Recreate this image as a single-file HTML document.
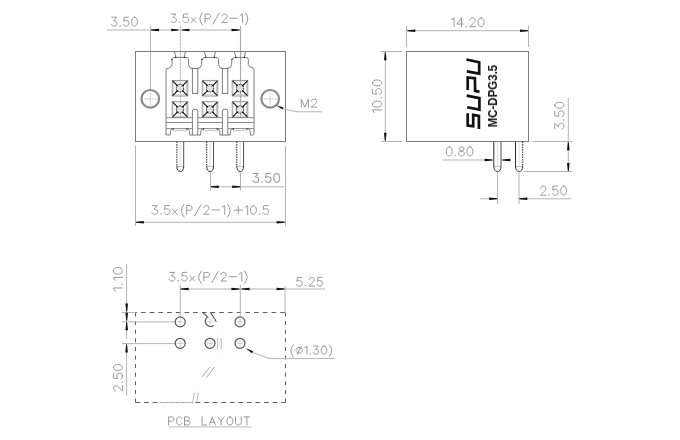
<!DOCTYPE html>
<html><head><meta charset="utf-8"><style>
html,body{margin:0;padding:0;background:#fff;width:680px;height:440px;overflow:hidden}
svg{display:block}
text{font-family:"Liberation Sans",sans-serif}
</style></head><body>
<svg width="680" height="440" viewBox="0 0 680 440">
<rect width="680" height="440" fill="#fff"/>
<line x1="107" y1="30" x2="240.5" y2="30" stroke="#b4b4b4" stroke-width="1" />
<line x1="150.5" y1="26" x2="150.5" y2="89" stroke="#b4b4b4" stroke-width="1" />
<line x1="180.5" y1="26" x2="180.5" y2="118" stroke="#b0b0b0" stroke-width="0.9" stroke-dasharray="2.5,0.8"/>
<line x1="240.5" y1="26" x2="240.5" y2="118" stroke="#a8a8a8" stroke-width="1.1" />
<polygon points="151.00,29.55 159.00,28.70 159.00,31.30 151.00,30.45" fill="#111"/>
<polygon points="178.40,29.55 171.20,28.70 171.20,31.30 178.40,30.45" fill="#111"/>
<polygon points="181.90,29.55 189.30,28.70 189.30,31.30 181.90,30.45" fill="#111"/>
<polygon points="239.50,29.55 231.50,28.70 231.50,31.30 239.50,30.45" fill="#111"/>
<g transform="translate(111.30000000000001 17.2) scale(0.99618 0.89000)" fill="none" stroke="#999999" stroke-width="1.0" stroke-linecap="round" stroke-linejoin="round" style="vector-effect:non-scaling-stroke"><path vector-effect="non-scaling-stroke" transform="translate(0.000 0) scale(0.86 1)" d="M0.5,0 L6.1,0 L2.7,4.1 C5.2,4 6.6,5.2 6.6,7 C6.6,8.9 5.2,10 3.3,10 C1.8,10 0.6,9.4 0,8.2"/><path vector-effect="non-scaling-stroke" transform="translate(8.276 0) scale(1.0 1)" d="M0.2,9.6 L1.0,9.6"/><path vector-effect="non-scaling-stroke" transform="translate(12.076 0) scale(0.86 1)" d="M6,0 L0.9,0 L0.4,4.6 C1.2,4 2.2,3.7 3.3,3.7 C5.3,3.7 6.6,4.9 6.6,6.8 C6.6,8.8 5.2,10 3.3,10 C1.8,10 0.6,9.4 0,8.2"/><path vector-effect="non-scaling-stroke" transform="translate(20.352 0) scale(0.86 1)" d="M3.4,0 C5.6,0 6.8,2.2 6.8,5 C6.8,7.8 5.6,10 3.4,10 C1.2,10 0,7.8 0,5 C0,2.2 1.2,0 3.4,0 Z"/></g>
<g transform="translate(170.70000000000002 14.0) scale(1.00470 0.85000)" fill="none" stroke="#999999" stroke-width="1.0" stroke-linecap="round" stroke-linejoin="round" style="vector-effect:non-scaling-stroke"><path vector-effect="non-scaling-stroke" transform="translate(0.000 0) scale(0.86 1)" d="M0.5,0 L6.1,0 L2.7,4.1 C5.2,4 6.6,5.2 6.6,7 C6.6,8.9 5.2,10 3.3,10 C1.8,10 0.6,9.4 0,8.2"/><path vector-effect="non-scaling-stroke" transform="translate(8.276 0) scale(1.0 1)" d="M0.2,9.6 L1.0,9.6"/><path vector-effect="non-scaling-stroke" transform="translate(12.076 0) scale(0.86 1)" d="M6,0 L0.9,0 L0.4,4.6 C1.2,4 2.2,3.7 3.3,3.7 C5.3,3.7 6.6,4.9 6.6,6.8 C6.6,8.8 5.2,10 3.3,10 C1.8,10 0.6,9.4 0,8.2"/><path vector-effect="non-scaling-stroke" transform="translate(20.352 0) scale(0.86 1)" d="M0,4.2 L5.4,10 M5.4,4.2 L0,10"/><path vector-effect="non-scaling-stroke" transform="translate(27.596 0) scale(1.0 1)" d="M4,-1.5 Q-1.3,5.7 4,12.9"/><path vector-effect="non-scaling-stroke" transform="translate(34.196 0) scale(0.86 1)" d="M0,10 L0,0 L3.6,0 C5.3,0 6.2,1.1 6.2,2.7 C6.2,4.3 5.3,5.4 3.6,5.4 L0,5.4"/><path vector-effect="non-scaling-stroke" transform="translate(42.128 0) scale(1.0 1)" d="M0,11.8 L6.1,-1"/><path vector-effect="non-scaling-stroke" transform="translate(50.828 0) scale(0.86 1)" d="M0.2,2.4 C0.5,0.8 1.7,0 3.2,0 C5,0 6.2,1.1 6.2,2.8 C6.2,4.2 5.3,5.3 3.8,6.5 L0,10 L6.4,10"/><path vector-effect="non-scaling-stroke" transform="translate(58.932 0) scale(1.0 1)" d="M0,5 L7.4,5"/><path vector-effect="non-scaling-stroke" transform="translate(68.932 0) scale(1.0 1)" d="M0,1.9 L2.6,0 L2.6,10"/><path vector-effect="non-scaling-stroke" transform="translate(74.232 0) scale(1.0 1)" d="M0,-1.5 Q5.3,5.7 0,12.9"/></g>
<rect x="135.5" y="51.5" width="150" height="90" fill="none" stroke="#7c7c7c" stroke-width="1"/>
<path d="M166,135 L166,69.5 Q166,68.7 167,68.7 L168.5,68.5 Q172,67 172.1,64.2 L172.1,59.3 Q172.2,57.7 173.5,57.6 L175.9,57.4 L174.4,51.5 M185.5,51.5 L184.3,57.4 L175.9,57.4 M184.3,57.4 L187.2,57.6 Q188.4,58 188.5,59.3 L188.6,64.6 Q189,68.5 192.4,68.5 L197.4,68.5 Q201.4,68.3 201.6,64.6 L201.8,60.5 Q202.2,57.6 205,57.4 L205.9,57.4 L204.4,51.5 M215.5,51.5 L214.3,57.4 L205.9,57.4 M214.3,57.4 L217.2,57.6 Q218.4,58 218.5,59.3 L218.6,64.6 Q219,68.5 222.4,68.5 L227.4,68.5 Q231.4,68.3 231.6,64.6 L231.8,60.5 Q232.2,57.6 235,57.4 L235.9,57.4 L234.4,51.5 M245.5,51.5 L244.3,57.4 L235.9,57.4 M244.3,57.4 L247.2,57.6 Q248.3,58 248.3,59.3 L248.3,64.6 Q249.5,67.6 253,68.1 Q254,68.3 254,69.5 L254,133.6" fill="none" stroke="#7c7c7c" stroke-width="1"/>
<circle cx="175.8" cy="57.4" r="0.7" fill="#222"/>
<circle cx="184.3" cy="57.4" r="0.7" fill="#222"/>
<circle cx="171.9" cy="59.4" r="0.7" fill="#222"/>
<circle cx="205.8" cy="57.4" r="0.7" fill="#222"/>
<circle cx="214.3" cy="57.4" r="0.7" fill="#222"/>
<circle cx="201.9" cy="59.4" r="0.7" fill="#222"/>
<circle cx="235.8" cy="57.4" r="0.7" fill="#222"/>
<circle cx="244.3" cy="57.4" r="0.7" fill="#222"/>
<circle cx="231.9" cy="59.4" r="0.7" fill="#222"/>
<circle cx="192.4" cy="68.5" r="0.7" fill="#222"/>
<circle cx="197.4" cy="68.5" r="0.7" fill="#222"/>
<circle cx="222.4" cy="68.5" r="0.7" fill="#222"/>
<circle cx="227.4" cy="68.5" r="0.7" fill="#222"/>
<rect x="192.4" y="68.5" width="5.4" height="25" fill="none" stroke="#7c7c7c" stroke-width="1"/>
<path d="M192.4,135 L192.4,111 Q192.4,109.2 195.1,109.2 Q197.8,109.2 197.8,111 L197.8,135" fill="none" stroke="#7c7c7c" stroke-width="1"/>
<rect x="222.4" y="68.5" width="5.4" height="25" fill="none" stroke="#7c7c7c" stroke-width="1"/>
<path d="M222.4,135 L222.4,111 Q222.4,109.2 225.1,109.2 Q227.8,109.2 227.8,111 L227.8,135" fill="none" stroke="#7c7c7c" stroke-width="1"/>
<line x1="166" y1="117.7" x2="192.4" y2="117.7" stroke="#8a8a8a" stroke-width="1.0" />
<line x1="166" y1="122.5" x2="192.4" y2="122.5" stroke="#8a8a8a" stroke-width="1.0" />
<line x1="166" y1="128.6" x2="192.4" y2="128.6" stroke="#8a8a8a" stroke-width="1.0" />
<line x1="197.8" y1="117.7" x2="222.4" y2="117.7" stroke="#8a8a8a" stroke-width="1.0" />
<line x1="197.8" y1="122.5" x2="222.4" y2="122.5" stroke="#8a8a8a" stroke-width="1.0" />
<line x1="197.8" y1="128.6" x2="222.4" y2="128.6" stroke="#8a8a8a" stroke-width="1.0" />
<line x1="227.8" y1="117.7" x2="254" y2="117.7" stroke="#8a8a8a" stroke-width="1.0" />
<line x1="227.8" y1="122.5" x2="254" y2="122.5" stroke="#8a8a8a" stroke-width="1.0" />
<line x1="227.8" y1="128.6" x2="254" y2="128.6" stroke="#8a8a8a" stroke-width="1.0" />
<path d="M166,133.6 Q166,135 167.4,135 L170.1,135 M170.2,135 L170.39999999999998,131.4 Q170.7,128.9 173.2,128.6 M186.8,128.6 Q189.3,128.9 189.60000000000002,131.4 L189.8,135 M200.6,135 L200.79999999999998,131.4 Q201.1,128.9 203.6,128.6 M216.9,128.6 Q219.4,128.9 219.70000000000002,131.4 L219.9,135 M230.3,135 L230.5,131.4 Q230.8,128.9 233.3,128.6 M247.4,128.6 Q249.9,128.9 250.20000000000002,131.4 L250.4,135 M189.8,135 L200.6,135 M219.9,135 L230.3,135 M250.4,135 L252.6,135 Q254,135 254,133.6" fill="none" stroke="#7c7c7c" stroke-width="1"/>
<path d="M172.7,131 Q180.0,129.8 187.2,131" fill="none" stroke="#b4b4b4" stroke-width="0.8"/>
<circle cx="173.2" cy="128.9" r="0.75" fill="#222"/><circle cx="186.79999999999998" cy="128.9" r="0.75" fill="#222"/>
<path d="M203.1,131 Q210.4,129.8 217.6,131" fill="none" stroke="#b4b4b4" stroke-width="0.8"/>
<circle cx="203.6" cy="128.9" r="0.75" fill="#222"/><circle cx="217.2" cy="128.9" r="0.75" fill="#222"/>
<path d="M232.8,131 Q240.10000000000002,129.8 247.3,131" fill="none" stroke="#b4b4b4" stroke-width="0.8"/>
<circle cx="233.3" cy="128.9" r="0.75" fill="#222"/><circle cx="246.9" cy="128.9" r="0.75" fill="#222"/>
<rect x="172.2" y="80.4" width="15.6" height="15.6" fill="none" stroke="#8a8a8a" stroke-width="0.9"/>
<path d="M186.60000000000002,81.80000000000001 L186.60000000000002,94.8 L173.6,94.8" fill="none" stroke="#c4c4c4" stroke-width="1"/>
<path d="M173.39999999999998,94.6 L173.39999999999998,81.60000000000001 L186.4,81.60000000000001" fill="none" stroke="#dcdcdc" stroke-width="0.8"/>
<circle cx="180" cy="88.2" r="3.7" fill="#e6e6e6" stroke="#2a2a2a" stroke-width="1" stroke-dasharray="1.6,0.6"/>
<circle cx="180" cy="88.2" r="2.0" fill="#f8f8f8"/>
<line x1="177.1" y1="85.3" x2="178.4" y2="86.60000000000001" stroke="#666" stroke-width="0.7" />
<line x1="182.9" y1="91.10000000000001" x2="181.6" y2="89.8" stroke="#666" stroke-width="0.7" />
<line x1="177.1" y1="91.10000000000001" x2="178.4" y2="89.8" stroke="#666" stroke-width="0.7" />
<line x1="182.9" y1="85.3" x2="181.6" y2="86.60000000000001" stroke="#666" stroke-width="0.7" />
<line x1="172.6" y1="80.8" x2="177.1" y2="85.3" stroke="#111" stroke-width="1.15" />
<circle cx="177.1" cy="85.3" r="0.85" fill="#111"/>
<line x1="187.4" y1="80.8" x2="182.9" y2="85.3" stroke="#111" stroke-width="1.15" />
<circle cx="182.9" cy="85.3" r="0.85" fill="#111"/>
<line x1="172.6" y1="95.60000000000001" x2="177.1" y2="91.10000000000001" stroke="#111" stroke-width="1.15" />
<circle cx="177.1" cy="91.10000000000001" r="0.85" fill="#111"/>
<line x1="187.4" y1="95.60000000000001" x2="182.9" y2="91.10000000000001" stroke="#111" stroke-width="1.15" />
<circle cx="182.9" cy="91.10000000000001" r="0.85" fill="#111"/>
<line x1="177" y1="88.2" x2="183" y2="88.2" stroke="#c8c8c8" stroke-width="0.7" />
<line x1="180" y1="85.2" x2="180" y2="91.2" stroke="#c8c8c8" stroke-width="0.7" />
<rect x="172.2" y="101.7" width="15.6" height="15.6" fill="none" stroke="#8a8a8a" stroke-width="0.9"/>
<path d="M186.60000000000002,103.10000000000001 L186.60000000000002,116.1 L173.6,116.1" fill="none" stroke="#c4c4c4" stroke-width="1"/>
<path d="M173.39999999999998,115.89999999999999 L173.39999999999998,102.9 L186.4,102.9" fill="none" stroke="#dcdcdc" stroke-width="0.8"/>
<circle cx="180" cy="109.5" r="3.7" fill="#e6e6e6" stroke="#2a2a2a" stroke-width="1" stroke-dasharray="1.6,0.6"/>
<circle cx="180" cy="109.5" r="2.0" fill="#f8f8f8"/>
<line x1="177.1" y1="106.6" x2="178.4" y2="107.9" stroke="#666" stroke-width="0.7" />
<line x1="182.9" y1="112.4" x2="181.6" y2="111.1" stroke="#666" stroke-width="0.7" />
<line x1="177.1" y1="112.4" x2="178.4" y2="111.1" stroke="#666" stroke-width="0.7" />
<line x1="182.9" y1="106.6" x2="181.6" y2="107.9" stroke="#666" stroke-width="0.7" />
<line x1="172.6" y1="102.1" x2="177.1" y2="106.6" stroke="#111" stroke-width="1.15" />
<circle cx="177.1" cy="106.6" r="0.85" fill="#111"/>
<line x1="187.4" y1="102.1" x2="182.9" y2="106.6" stroke="#111" stroke-width="1.15" />
<circle cx="182.9" cy="106.6" r="0.85" fill="#111"/>
<line x1="172.6" y1="116.9" x2="177.1" y2="112.4" stroke="#111" stroke-width="1.15" />
<circle cx="177.1" cy="112.4" r="0.85" fill="#111"/>
<line x1="187.4" y1="116.9" x2="182.9" y2="112.4" stroke="#111" stroke-width="1.15" />
<circle cx="182.9" cy="112.4" r="0.85" fill="#111"/>
<line x1="177" y1="109.5" x2="183" y2="109.5" stroke="#c8c8c8" stroke-width="0.7" />
<line x1="180" y1="106.5" x2="180" y2="112.5" stroke="#c8c8c8" stroke-width="0.7" />
<rect x="202.2" y="80.4" width="15.6" height="15.6" fill="none" stroke="#8a8a8a" stroke-width="0.9"/>
<path d="M216.60000000000002,81.80000000000001 L216.60000000000002,94.8 L203.6,94.8" fill="none" stroke="#c4c4c4" stroke-width="1"/>
<path d="M203.39999999999998,94.6 L203.39999999999998,81.60000000000001 L216.4,81.60000000000001" fill="none" stroke="#dcdcdc" stroke-width="0.8"/>
<circle cx="210" cy="88.2" r="3.7" fill="#e6e6e6" stroke="#2a2a2a" stroke-width="1" stroke-dasharray="1.6,0.6"/>
<circle cx="210" cy="88.2" r="2.0" fill="#f8f8f8"/>
<line x1="207.1" y1="85.3" x2="208.4" y2="86.60000000000001" stroke="#666" stroke-width="0.7" />
<line x1="212.9" y1="91.10000000000001" x2="211.6" y2="89.8" stroke="#666" stroke-width="0.7" />
<line x1="207.1" y1="91.10000000000001" x2="208.4" y2="89.8" stroke="#666" stroke-width="0.7" />
<line x1="212.9" y1="85.3" x2="211.6" y2="86.60000000000001" stroke="#666" stroke-width="0.7" />
<line x1="202.6" y1="80.8" x2="207.1" y2="85.3" stroke="#111" stroke-width="1.15" />
<circle cx="207.1" cy="85.3" r="0.85" fill="#111"/>
<line x1="217.4" y1="80.8" x2="212.9" y2="85.3" stroke="#111" stroke-width="1.15" />
<circle cx="212.9" cy="85.3" r="0.85" fill="#111"/>
<line x1="202.6" y1="95.60000000000001" x2="207.1" y2="91.10000000000001" stroke="#111" stroke-width="1.15" />
<circle cx="207.1" cy="91.10000000000001" r="0.85" fill="#111"/>
<line x1="217.4" y1="95.60000000000001" x2="212.9" y2="91.10000000000001" stroke="#111" stroke-width="1.15" />
<circle cx="212.9" cy="91.10000000000001" r="0.85" fill="#111"/>
<line x1="207" y1="88.2" x2="213" y2="88.2" stroke="#c8c8c8" stroke-width="0.7" />
<line x1="210" y1="85.2" x2="210" y2="91.2" stroke="#c8c8c8" stroke-width="0.7" />
<rect x="202.2" y="101.7" width="15.6" height="15.6" fill="none" stroke="#8a8a8a" stroke-width="0.9"/>
<path d="M216.60000000000002,103.10000000000001 L216.60000000000002,116.1 L203.6,116.1" fill="none" stroke="#c4c4c4" stroke-width="1"/>
<path d="M203.39999999999998,115.89999999999999 L203.39999999999998,102.9 L216.4,102.9" fill="none" stroke="#dcdcdc" stroke-width="0.8"/>
<circle cx="210" cy="109.5" r="3.7" fill="#e6e6e6" stroke="#2a2a2a" stroke-width="1" stroke-dasharray="1.6,0.6"/>
<circle cx="210" cy="109.5" r="2.0" fill="#f8f8f8"/>
<line x1="207.1" y1="106.6" x2="208.4" y2="107.9" stroke="#666" stroke-width="0.7" />
<line x1="212.9" y1="112.4" x2="211.6" y2="111.1" stroke="#666" stroke-width="0.7" />
<line x1="207.1" y1="112.4" x2="208.4" y2="111.1" stroke="#666" stroke-width="0.7" />
<line x1="212.9" y1="106.6" x2="211.6" y2="107.9" stroke="#666" stroke-width="0.7" />
<line x1="202.6" y1="102.1" x2="207.1" y2="106.6" stroke="#111" stroke-width="1.15" />
<circle cx="207.1" cy="106.6" r="0.85" fill="#111"/>
<line x1="217.4" y1="102.1" x2="212.9" y2="106.6" stroke="#111" stroke-width="1.15" />
<circle cx="212.9" cy="106.6" r="0.85" fill="#111"/>
<line x1="202.6" y1="116.9" x2="207.1" y2="112.4" stroke="#111" stroke-width="1.15" />
<circle cx="207.1" cy="112.4" r="0.85" fill="#111"/>
<line x1="217.4" y1="116.9" x2="212.9" y2="112.4" stroke="#111" stroke-width="1.15" />
<circle cx="212.9" cy="112.4" r="0.85" fill="#111"/>
<line x1="207" y1="109.5" x2="213" y2="109.5" stroke="#c8c8c8" stroke-width="0.7" />
<line x1="210" y1="106.5" x2="210" y2="112.5" stroke="#c8c8c8" stroke-width="0.7" />
<rect x="232.2" y="80.4" width="15.6" height="15.6" fill="none" stroke="#8a8a8a" stroke-width="0.9"/>
<path d="M246.60000000000002,81.80000000000001 L246.60000000000002,94.8 L233.6,94.8" fill="none" stroke="#c4c4c4" stroke-width="1"/>
<path d="M233.39999999999998,94.6 L233.39999999999998,81.60000000000001 L246.4,81.60000000000001" fill="none" stroke="#dcdcdc" stroke-width="0.8"/>
<circle cx="240" cy="88.2" r="3.7" fill="#e6e6e6" stroke="#2a2a2a" stroke-width="1" stroke-dasharray="1.6,0.6"/>
<circle cx="240" cy="88.2" r="2.0" fill="#f8f8f8"/>
<line x1="237.1" y1="85.3" x2="238.4" y2="86.60000000000001" stroke="#666" stroke-width="0.7" />
<line x1="242.9" y1="91.10000000000001" x2="241.6" y2="89.8" stroke="#666" stroke-width="0.7" />
<line x1="237.1" y1="91.10000000000001" x2="238.4" y2="89.8" stroke="#666" stroke-width="0.7" />
<line x1="242.9" y1="85.3" x2="241.6" y2="86.60000000000001" stroke="#666" stroke-width="0.7" />
<line x1="232.6" y1="80.8" x2="237.1" y2="85.3" stroke="#111" stroke-width="1.15" />
<circle cx="237.1" cy="85.3" r="0.85" fill="#111"/>
<line x1="247.4" y1="80.8" x2="242.9" y2="85.3" stroke="#111" stroke-width="1.15" />
<circle cx="242.9" cy="85.3" r="0.85" fill="#111"/>
<line x1="232.6" y1="95.60000000000001" x2="237.1" y2="91.10000000000001" stroke="#111" stroke-width="1.15" />
<circle cx="237.1" cy="91.10000000000001" r="0.85" fill="#111"/>
<line x1="247.4" y1="95.60000000000001" x2="242.9" y2="91.10000000000001" stroke="#111" stroke-width="1.15" />
<circle cx="242.9" cy="91.10000000000001" r="0.85" fill="#111"/>
<line x1="237" y1="88.2" x2="243" y2="88.2" stroke="#c8c8c8" stroke-width="0.7" />
<line x1="240" y1="85.2" x2="240" y2="91.2" stroke="#c8c8c8" stroke-width="0.7" />
<rect x="232.2" y="101.7" width="15.6" height="15.6" fill="none" stroke="#8a8a8a" stroke-width="0.9"/>
<path d="M246.60000000000002,103.10000000000001 L246.60000000000002,116.1 L233.6,116.1" fill="none" stroke="#c4c4c4" stroke-width="1"/>
<path d="M233.39999999999998,115.89999999999999 L233.39999999999998,102.9 L246.4,102.9" fill="none" stroke="#dcdcdc" stroke-width="0.8"/>
<circle cx="240" cy="109.5" r="3.7" fill="#e6e6e6" stroke="#2a2a2a" stroke-width="1" stroke-dasharray="1.6,0.6"/>
<circle cx="240" cy="109.5" r="2.0" fill="#f8f8f8"/>
<line x1="237.1" y1="106.6" x2="238.4" y2="107.9" stroke="#666" stroke-width="0.7" />
<line x1="242.9" y1="112.4" x2="241.6" y2="111.1" stroke="#666" stroke-width="0.7" />
<line x1="237.1" y1="112.4" x2="238.4" y2="111.1" stroke="#666" stroke-width="0.7" />
<line x1="242.9" y1="106.6" x2="241.6" y2="107.9" stroke="#666" stroke-width="0.7" />
<line x1="232.6" y1="102.1" x2="237.1" y2="106.6" stroke="#111" stroke-width="1.15" />
<circle cx="237.1" cy="106.6" r="0.85" fill="#111"/>
<line x1="247.4" y1="102.1" x2="242.9" y2="106.6" stroke="#111" stroke-width="1.15" />
<circle cx="242.9" cy="106.6" r="0.85" fill="#111"/>
<line x1="232.6" y1="116.9" x2="237.1" y2="112.4" stroke="#111" stroke-width="1.15" />
<circle cx="237.1" cy="112.4" r="0.85" fill="#111"/>
<line x1="247.4" y1="116.9" x2="242.9" y2="112.4" stroke="#111" stroke-width="1.15" />
<circle cx="242.9" cy="112.4" r="0.85" fill="#111"/>
<line x1="237" y1="109.5" x2="243" y2="109.5" stroke="#c8c8c8" stroke-width="0.7" />
<line x1="240" y1="106.5" x2="240" y2="112.5" stroke="#c8c8c8" stroke-width="0.7" />
<circle cx="150.3" cy="98.8" r="8.8" fill="none" stroke="#8a8a8a" stroke-width="2.2"/>
<line x1="143.8" y1="98.9" x2="156.8" y2="98.9" stroke="#c8c8c8" stroke-width="0.8" />
<line x1="150.3" y1="92.4" x2="150.3" y2="105.4" stroke="#c8c8c8" stroke-width="0.8" />
<circle cx="270.2" cy="98.8" r="8.8" fill="none" stroke="#8a8a8a" stroke-width="2.2"/>
<line x1="263.7" y1="98.9" x2="276.7" y2="98.9" stroke="#c8c8c8" stroke-width="0.8" />
<line x1="270.2" y1="92.4" x2="270.2" y2="105.4" stroke="#c8c8c8" stroke-width="0.8" />
<polygon points="275.8,105 283.5,107.6 282.4,109.6" fill="#111"/>
<path d="M283,108.6 Q290,110.8 298,111.8 L322,111.8" fill="none" stroke="#b4b4b4" stroke-width="1"/>
<g transform="translate(301.29999999999995 99.10000000000001) scale(1.04041 0.81000)" fill="none" stroke="#999999" stroke-width="1.0" stroke-linecap="round" stroke-linejoin="round" style="vector-effect:non-scaling-stroke"><path vector-effect="non-scaling-stroke" transform="translate(0.000 0) scale(0.86 1)" d="M0,10 L0,0 L3.95,10 L7.9,0 L7.9,10"/><path vector-effect="non-scaling-stroke" transform="translate(9.394 0) scale(0.86 1)" d="M0.2,2.4 C0.5,0.8 1.7,0 3.2,0 C5,0 6.2,1.1 6.2,2.8 C6.2,4.2 5.3,5.3 3.8,6.5 L0,10 L6.4,10"/></g>
<path d="M176.9,165.9 Q176.9,171.5 180.3,171.5 Q183.70000000000002,171.5 183.70000000000002,165.9" fill="none" stroke="#333" stroke-width="1"/>
<line x1="176.9" y1="141.5" x2="176.9" y2="166.1" stroke="#2a2a2a" stroke-width="1" stroke-dasharray="1.6,0.9"/>
<line x1="183.70000000000002" y1="141.5" x2="183.70000000000002" y2="166.1" stroke="#505050" stroke-width="1" />
<line x1="180.3" y1="142.5" x2="180.3" y2="165.5" stroke="#c0c0c0" stroke-width="0.9" stroke-dasharray="1.2,0.8"/>
<path d="M177.5,166.9 Q180.3,165.7 183.10000000000002,166.9" fill="none" stroke="#aaa" stroke-width="0.8"/>
<path d="M206.7,165.9 Q206.7,171.5 210.1,171.5 Q213.5,171.5 213.5,165.9" fill="none" stroke="#333" stroke-width="1"/>
<line x1="206.7" y1="141.5" x2="206.7" y2="166.1" stroke="#2a2a2a" stroke-width="1" stroke-dasharray="1.6,0.9"/>
<line x1="213.5" y1="141.5" x2="213.5" y2="166.1" stroke="#505050" stroke-width="1" />
<line x1="210.1" y1="142.5" x2="210.1" y2="165.5" stroke="#c0c0c0" stroke-width="0.9" stroke-dasharray="1.2,0.8"/>
<path d="M207.29999999999998,166.9 Q210.1,165.7 212.9,166.9" fill="none" stroke="#aaa" stroke-width="0.8"/>
<path d="M236.79999999999998,165.9 Q236.79999999999998,171.5 240.2,171.5 Q243.6,171.5 243.6,165.9" fill="none" stroke="#333" stroke-width="1"/>
<line x1="236.79999999999998" y1="141.5" x2="236.79999999999998" y2="166.1" stroke="#2a2a2a" stroke-width="1" stroke-dasharray="1.6,0.9"/>
<line x1="243.6" y1="141.5" x2="243.6" y2="166.1" stroke="#505050" stroke-width="1" />
<line x1="240.2" y1="142.5" x2="240.2" y2="165.5" stroke="#c0c0c0" stroke-width="0.9" stroke-dasharray="1.2,0.8"/>
<path d="M237.39999999999998,166.9 Q240.2,165.7 243.0,166.9" fill="none" stroke="#aaa" stroke-width="0.8"/>
<line x1="210.5" y1="172.5" x2="210.5" y2="190.5" stroke="#b4b4b4" stroke-width="1" />
<line x1="240.5" y1="172.5" x2="240.5" y2="190.5" stroke="#b4b4b4" stroke-width="1" />
<line x1="210.5" y1="186.8" x2="284" y2="186.8" stroke="#b4b4b4" stroke-width="1" />
<polygon points="210.80,186.35 218.80,185.50 218.80,188.10 210.80,187.25" fill="#111"/>
<polygon points="240.20,186.35 232.20,185.50 232.20,188.10 240.20,187.25" fill="#111"/>
<g transform="translate(252.8 173.4) scale(1.02672 0.89000)" fill="none" stroke="#999999" stroke-width="1.0" stroke-linecap="round" stroke-linejoin="round" style="vector-effect:non-scaling-stroke"><path vector-effect="non-scaling-stroke" transform="translate(0.000 0) scale(0.86 1)" d="M0.5,0 L6.1,0 L2.7,4.1 C5.2,4 6.6,5.2 6.6,7 C6.6,8.9 5.2,10 3.3,10 C1.8,10 0.6,9.4 0,8.2"/><path vector-effect="non-scaling-stroke" transform="translate(8.276 0) scale(1.0 1)" d="M0.2,9.6 L1.0,9.6"/><path vector-effect="non-scaling-stroke" transform="translate(12.076 0) scale(0.86 1)" d="M6,0 L0.9,0 L0.4,4.6 C1.2,4 2.2,3.7 3.3,3.7 C5.3,3.7 6.6,4.9 6.6,6.8 C6.6,8.8 5.2,10 3.3,10 C1.8,10 0.6,9.4 0,8.2"/><path vector-effect="non-scaling-stroke" transform="translate(20.352 0) scale(0.86 1)" d="M3.4,0 C5.6,0 6.8,2.2 6.8,5 C6.8,7.8 5.6,10 3.4,10 C1.2,10 0,7.8 0,5 C0,2.2 1.2,0 3.4,0 Z"/></g>
<line x1="135.5" y1="146" x2="135.5" y2="226" stroke="#b4b4b4" stroke-width="1" />
<line x1="285.5" y1="146" x2="285.5" y2="226" stroke="#b4b4b4" stroke-width="1" />
<line x1="135.5" y1="222.3" x2="285.5" y2="222.3" stroke="#b4b4b4" stroke-width="1" />
<polygon points="135.90,221.85 143.90,221.00 143.90,223.60 135.90,222.75" fill="#111"/>
<polygon points="284.70,221.85 276.70,221.00 276.70,223.60 284.70,222.75" fill="#111"/>
<g transform="translate(151.8 205.6) scale(1.01957 0.87000)" fill="none" stroke="#999999" stroke-width="1.0" stroke-linecap="round" stroke-linejoin="round" style="vector-effect:non-scaling-stroke"><path vector-effect="non-scaling-stroke" transform="translate(0.000 0) scale(0.86 1)" d="M0.5,0 L6.1,0 L2.7,4.1 C5.2,4 6.6,5.2 6.6,7 C6.6,8.9 5.2,10 3.3,10 C1.8,10 0.6,9.4 0,8.2"/><path vector-effect="non-scaling-stroke" transform="translate(8.276 0) scale(1.0 1)" d="M0.2,9.6 L1.0,9.6"/><path vector-effect="non-scaling-stroke" transform="translate(12.076 0) scale(0.86 1)" d="M6,0 L0.9,0 L0.4,4.6 C1.2,4 2.2,3.7 3.3,3.7 C5.3,3.7 6.6,4.9 6.6,6.8 C6.6,8.8 5.2,10 3.3,10 C1.8,10 0.6,9.4 0,8.2"/><path vector-effect="non-scaling-stroke" transform="translate(20.352 0) scale(0.86 1)" d="M0,4.2 L5.4,10 M5.4,4.2 L0,10"/><path vector-effect="non-scaling-stroke" transform="translate(27.596 0) scale(1.0 1)" d="M4,-1.5 Q-1.3,5.7 4,12.9"/><path vector-effect="non-scaling-stroke" transform="translate(34.196 0) scale(0.86 1)" d="M0,10 L0,0 L3.6,0 C5.3,0 6.2,1.1 6.2,2.7 C6.2,4.3 5.3,5.4 3.6,5.4 L0,5.4"/><path vector-effect="non-scaling-stroke" transform="translate(42.128 0) scale(1.0 1)" d="M0,11.8 L6.1,-1"/><path vector-effect="non-scaling-stroke" transform="translate(50.828 0) scale(0.86 1)" d="M0.2,2.4 C0.5,0.8 1.7,0 3.2,0 C5,0 6.2,1.1 6.2,2.8 C6.2,4.2 5.3,5.3 3.8,6.5 L0,10 L6.4,10"/><path vector-effect="non-scaling-stroke" transform="translate(58.932 0) scale(1.0 1)" d="M0,5 L7.4,5"/><path vector-effect="non-scaling-stroke" transform="translate(68.932 0) scale(1.0 1)" d="M0,1.9 L2.6,0 L2.6,10"/><path vector-effect="non-scaling-stroke" transform="translate(74.232 0) scale(1.0 1)" d="M0,-1.5 Q5.3,5.7 0,12.9"/><path vector-effect="non-scaling-stroke" transform="translate(80.832 0) scale(1.0 1)" d="M0,5.2 L8,5.2 M4,1.2 L4,9.2"/><path vector-effect="non-scaling-stroke" transform="translate(91.432 0) scale(1.0 1)" d="M0,1.9 L2.6,0 L2.6,10"/><path vector-effect="non-scaling-stroke" transform="translate(96.732 0) scale(0.86 1)" d="M3.4,0 C5.6,0 6.8,2.2 6.8,5 C6.8,7.8 5.6,10 3.4,10 C1.2,10 0,7.8 0,5 C0,2.2 1.2,0 3.4,0 Z"/><path vector-effect="non-scaling-stroke" transform="translate(105.180 0) scale(1.0 1)" d="M0.2,9.6 L1.0,9.6"/><path vector-effect="non-scaling-stroke" transform="translate(108.980 0) scale(0.86 1)" d="M6,0 L0.9,0 L0.4,4.6 C1.2,4 2.2,3.7 3.3,3.7 C5.3,3.7 6.6,4.9 6.6,6.8 C6.6,8.8 5.2,10 3.3,10 C1.8,10 0.6,9.4 0,8.2"/></g>
<rect x="406.5" y="51.5" width="122" height="90" fill="none" stroke="#7c7c7c" stroke-width="1"/>
<line x1="406.5" y1="26" x2="406.5" y2="47" stroke="#b4b4b4" stroke-width="1" />
<line x1="528.5" y1="26" x2="528.5" y2="47" stroke="#b4b4b4" stroke-width="1" />
<line x1="406.5" y1="30.7" x2="528.5" y2="30.7" stroke="#b4b4b4" stroke-width="1" />
<polygon points="407.30,30.25 415.30,29.40 415.30,32.00 407.30,31.15" fill="#111"/>
<polygon points="528.00,30.25 520.00,29.40 520.00,32.00 528.00,31.15" fill="#111"/>
<g transform="translate(451.4 17.9) scale(1.03246 0.88000)" fill="none" stroke="#999999" stroke-width="1.0" stroke-linecap="round" stroke-linejoin="round" style="vector-effect:non-scaling-stroke"><path vector-effect="non-scaling-stroke" transform="translate(0.000 0) scale(1.0 1)" d="M0,1.9 L2.6,0 L2.6,10"/><path vector-effect="non-scaling-stroke" transform="translate(5.300 0) scale(0.86 1)" d="M5.2,10 L5.2,0 L0,7 L7,7"/><path vector-effect="non-scaling-stroke" transform="translate(13.920 0) scale(1.0 1)" d="M0.2,9.6 L1.0,9.6"/><path vector-effect="non-scaling-stroke" transform="translate(17.720 0) scale(0.86 1)" d="M0.2,2.4 C0.5,0.8 1.7,0 3.2,0 C5,0 6.2,1.1 6.2,2.8 C6.2,4.2 5.3,5.3 3.8,6.5 L0,10 L6.4,10"/><path vector-effect="non-scaling-stroke" transform="translate(25.824 0) scale(0.86 1)" d="M3.4,0 C5.6,0 6.8,2.2 6.8,5 C6.8,7.8 5.6,10 3.4,10 C1.2,10 0,7.8 0,5 C0,2.2 1.2,0 3.4,0 Z"/></g>
<line x1="381" y1="51.5" x2="402" y2="51.5" stroke="#b4b4b4" stroke-width="1" />
<line x1="381" y1="141.5" x2="402" y2="141.5" stroke="#b4b4b4" stroke-width="1" />
<line x1="385.3" y1="51.5" x2="385.3" y2="141.5" stroke="#b4b4b4" stroke-width="1" />
<polygon points="384.85,52.30 384.00,60.30 386.60,60.30 385.75,52.30" fill="#111"/>
<polygon points="384.85,140.70 384.00,132.70 386.60,132.70 385.75,140.70" fill="#111"/>
<g transform="translate(372.4 112.6) rotate(-90) scale(1.03246 0.92000)" fill="none" stroke="#999999" stroke-width="1.0" stroke-linecap="round" stroke-linejoin="round" style="vector-effect:non-scaling-stroke"><path vector-effect="non-scaling-stroke" transform="translate(0.000 0) scale(1.0 1)" d="M0,1.9 L2.6,0 L2.6,10"/><path vector-effect="non-scaling-stroke" transform="translate(5.300 0) scale(0.86 1)" d="M3.4,0 C5.6,0 6.8,2.2 6.8,5 C6.8,7.8 5.6,10 3.4,10 C1.2,10 0,7.8 0,5 C0,2.2 1.2,0 3.4,0 Z"/><path vector-effect="non-scaling-stroke" transform="translate(13.748 0) scale(1.0 1)" d="M0.2,9.6 L1.0,9.6"/><path vector-effect="non-scaling-stroke" transform="translate(17.548 0) scale(0.86 1)" d="M6,0 L0.9,0 L0.4,4.6 C1.2,4 2.2,3.7 3.3,3.7 C5.3,3.7 6.6,4.9 6.6,6.8 C6.6,8.8 5.2,10 3.3,10 C1.8,10 0.6,9.4 0,8.2"/><path vector-effect="non-scaling-stroke" transform="translate(25.824 0) scale(0.86 1)" d="M3.4,0 C5.6,0 6.8,2.2 6.8,5 C6.8,7.8 5.6,10 3.4,10 C1.2,10 0,7.8 0,5 C0,2.2 1.2,0 3.4,0 Z"/></g>
<polyline points="466.4,59.5 479.2,62.3 479.2,73.6 466.8,71.4" fill="none" stroke="#111" stroke-width="2.7" stroke-linejoin="miter"/>
<polyline points="467.7,90 467.7,77.5 474.9,78.3 475.1,90.9 479.5,91.9" fill="none" stroke="#111" stroke-width="2.7" stroke-linejoin="miter"/>
<polyline points="466.7,95.7 479.4,98.1 479.4,109.6 467.2,107.2" fill="none" stroke="#111" stroke-width="2.7" stroke-linejoin="miter"/>
<polyline points="467.7,113.2 467.7,125.5 473.2,126.3 473.2,114.8 478.9,115.9 478.9,129" fill="none" stroke="#111" stroke-width="2.7" stroke-linejoin="miter"/>
<g style="will-change:transform" opacity="0.999">
<text x="497.4" y="127.4" font-size="13.2" fill="#111" font-weight="bold" text-anchor="start" textLength="62.6" lengthAdjust="spacingAndGlyphs" transform="rotate(-90 497.4 127.4)">MC-DPG3.5</text>
</g>
<path d="M493.79999999999995,165.9 Q493.79999999999995,171.5 497.4,171.5 Q501.0,171.5 501.0,165.9" fill="none" stroke="#333" stroke-width="1"/>
<line x1="493.79999999999995" y1="141.5" x2="493.79999999999995" y2="166.1" stroke="#2a2a2a" stroke-width="1" />
<line x1="501.0" y1="141.5" x2="501.0" y2="166.1" stroke="#505050" stroke-width="1" />
<line x1="497.4" y1="142.5" x2="497.4" y2="165.5" stroke="#c0c0c0" stroke-width="0.9" stroke-dasharray="1.2,0.8"/>
<path d="M494.4,166.9 Q497.4,165.7 500.4,166.9" fill="none" stroke="#aaa" stroke-width="0.8"/>
<path d="M515.5,165.9 Q515.5,171.5 519.1,171.5 Q522.7,171.5 522.7,165.9" fill="none" stroke="#333" stroke-width="1"/>
<line x1="515.5" y1="141.5" x2="515.5" y2="166.1" stroke="#2a2a2a" stroke-width="1" />
<line x1="522.7" y1="141.5" x2="522.7" y2="166.1" stroke="#2a2a2a" stroke-width="1" stroke-dasharray="1.6,0.9"/>
<line x1="519.1" y1="142.5" x2="519.1" y2="165.5" stroke="#c0c0c0" stroke-width="0.9" stroke-dasharray="1.2,0.8"/>
<path d="M516.1,166.9 Q519.1,165.7 522.1,166.9" fill="none" stroke="#aaa" stroke-width="0.8"/>
<line x1="442.5" y1="160" x2="493.5" y2="160" stroke="#b4b4b4" stroke-width="1" />
<line x1="502" y1="160" x2="510" y2="160" stroke="#b4b4b4" stroke-width="1" />
<polygon points="492.60,159.55 484.60,158.70 484.60,161.30 492.60,160.45" fill="#111"/>
<polygon points="502.40,159.55 510.40,158.70 510.40,161.30 502.40,160.45" fill="#111"/>
<g transform="translate(446.29999999999995 146.8) scale(1.00485 0.92000)" fill="none" stroke="#999999" stroke-width="1.0" stroke-linecap="round" stroke-linejoin="round" style="vector-effect:non-scaling-stroke"><path vector-effect="non-scaling-stroke" transform="translate(0.000 0) scale(0.86 1)" d="M3.4,0 C5.6,0 6.8,2.2 6.8,5 C6.8,7.8 5.6,10 3.4,10 C1.2,10 0,7.8 0,5 C0,2.2 1.2,0 3.4,0 Z"/><path vector-effect="non-scaling-stroke" transform="translate(8.448 0) scale(1.0 1)" d="M0.2,9.6 L1.0,9.6"/><path vector-effect="non-scaling-stroke" transform="translate(12.248 0) scale(0.86 1)" d="M3.3,4.6 C1.6,4.6 0.6,3.7 0.6,2.3 C0.6,0.9 1.6,0 3.3,0 C5,0 6,0.9 6,2.3 C6,3.7 5,4.6 3.3,4.6 C1.3,4.6 0,5.6 0,7.3 C0,9 1.3,10 3.3,10 C5.3,10 6.6,9 6.6,7.3 C6.6,5.6 5.3,4.6 3.3,4.6 Z"/><path vector-effect="non-scaling-stroke" transform="translate(20.524 0) scale(0.86 1)" d="M3.4,0 C5.6,0 6.8,2.2 6.8,5 C6.8,7.8 5.6,10 3.4,10 C1.2,10 0,7.8 0,5 C0,2.2 1.2,0 3.4,0 Z"/></g>
<line x1="497.5" y1="171.5" x2="497.5" y2="204" stroke="#b4b4b4" stroke-width="1" />
<line x1="519" y1="171.5" x2="519" y2="204" stroke="#b4b4b4" stroke-width="1" />
<line x1="480" y1="198.8" x2="497.5" y2="198.8" stroke="#b4b4b4" stroke-width="1" />
<line x1="519" y1="198.8" x2="571.3" y2="198.8" stroke="#b4b4b4" stroke-width="1" />
<polygon points="497.20,198.35 489.20,197.50 489.20,200.10 497.20,199.25" fill="#111"/>
<polygon points="519.30,198.35 527.30,197.50 527.30,200.10 519.30,199.25" fill="#111"/>
<g transform="translate(540.4 186.0) scale(1.00661 0.92000)" fill="none" stroke="#999999" stroke-width="1.0" stroke-linecap="round" stroke-linejoin="round" style="vector-effect:non-scaling-stroke"><path vector-effect="non-scaling-stroke" transform="translate(0.000 0) scale(0.86 1)" d="M0.2,2.4 C0.5,0.8 1.7,0 3.2,0 C5,0 6.2,1.1 6.2,2.8 C6.2,4.2 5.3,5.3 3.8,6.5 L0,10 L6.4,10"/><path vector-effect="non-scaling-stroke" transform="translate(8.104 0) scale(1.0 1)" d="M0.2,9.6 L1.0,9.6"/><path vector-effect="non-scaling-stroke" transform="translate(11.904 0) scale(0.86 1)" d="M6,0 L0.9,0 L0.4,4.6 C1.2,4 2.2,3.7 3.3,3.7 C5.3,3.7 6.6,4.9 6.6,6.8 C6.6,8.8 5.2,10 3.3,10 C1.8,10 0.6,9.4 0,8.2"/><path vector-effect="non-scaling-stroke" transform="translate(20.180 0) scale(0.86 1)" d="M3.4,0 C5.6,0 6.8,2.2 6.8,5 C6.8,7.8 5.6,10 3.4,10 C1.2,10 0,7.8 0,5 C0,2.2 1.2,0 3.4,0 Z"/></g>
<line x1="532.5" y1="141.5" x2="572.5" y2="141.5" stroke="#b4b4b4" stroke-width="1" />
<line x1="523.8" y1="171.5" x2="572.5" y2="171.5" stroke="#b4b4b4" stroke-width="1" />
<line x1="568.3" y1="98" x2="568.3" y2="171.5" stroke="#b4b4b4" stroke-width="1" />
<polygon points="567.85,142.30 567.00,150.30 569.60,150.30 568.75,142.30" fill="#111"/>
<polygon points="567.85,171.10 567.00,163.10 569.60,163.10 568.75,171.10" fill="#111"/>
<g transform="translate(554.8 129.0) rotate(-90) scale(1.01908 0.92000)" fill="none" stroke="#999999" stroke-width="1.0" stroke-linecap="round" stroke-linejoin="round" style="vector-effect:non-scaling-stroke"><path vector-effect="non-scaling-stroke" transform="translate(0.000 0) scale(0.86 1)" d="M0.5,0 L6.1,0 L2.7,4.1 C5.2,4 6.6,5.2 6.6,7 C6.6,8.9 5.2,10 3.3,10 C1.8,10 0.6,9.4 0,8.2"/><path vector-effect="non-scaling-stroke" transform="translate(8.276 0) scale(1.0 1)" d="M0.2,9.6 L1.0,9.6"/><path vector-effect="non-scaling-stroke" transform="translate(12.076 0) scale(0.86 1)" d="M6,0 L0.9,0 L0.4,4.6 C1.2,4 2.2,3.7 3.3,3.7 C5.3,3.7 6.6,4.9 6.6,6.8 C6.6,8.8 5.2,10 3.3,10 C1.8,10 0.6,9.4 0,8.2"/><path vector-effect="non-scaling-stroke" transform="translate(20.352 0) scale(0.86 1)" d="M3.4,0 C5.6,0 6.8,2.2 6.8,5 C6.8,7.8 5.6,10 3.4,10 C1.2,10 0,7.8 0,5 C0,2.2 1.2,0 3.4,0 Z"/></g>
<line x1="135.5" y1="312.5" x2="285.5" y2="312.5" stroke="#606060" stroke-width="1.05" stroke-dasharray="4.6,4.1" stroke-dashoffset="3.2"/>
<line x1="135.5" y1="312.5" x2="135.5" y2="402.5" stroke="#606060" stroke-width="1.05" stroke-dasharray="4.0,4.6"/>
<line x1="135.5" y1="402.5" x2="285.5" y2="402.5" stroke="#606060" stroke-width="1.05" stroke-dasharray="4.8,3.77"/>
<line x1="285.5" y1="312.5" x2="285.5" y2="402.5" stroke="#606060" stroke-width="1.05" stroke-dasharray="4.0,4.6"/>
<line x1="180.3" y1="284.8" x2="180.3" y2="316" stroke="#b4b4b4" stroke-width="1" />
<line x1="240.3" y1="284.8" x2="240.3" y2="316" stroke="#b4b4b4" stroke-width="1" />
<line x1="180.3" y1="289" x2="325" y2="289" stroke="#b4b4b4" stroke-width="1" />
<polygon points="180.70,288.55 188.70,287.70 188.70,290.30 180.70,289.45" fill="#111"/>
<polygon points="239.40,288.55 231.40,287.70 231.40,290.30 239.40,289.45" fill="#111"/>
<polygon points="241.60,288.55 249.60,287.70 249.60,290.30 241.60,289.45" fill="#111"/>
<polygon points="284.60,288.55 276.60,287.70 276.60,290.30 284.60,289.45" fill="#111"/>
<line x1="285" y1="286" x2="285" y2="312.5" stroke="#b4b4b4" stroke-width="1" />
<g transform="translate(169.20000000000002 272.4) scale(1.01493 0.86000)" fill="none" stroke="#999999" stroke-width="1.0" stroke-linecap="round" stroke-linejoin="round" style="vector-effect:non-scaling-stroke"><path vector-effect="non-scaling-stroke" transform="translate(0.000 0) scale(0.86 1)" d="M0.5,0 L6.1,0 L2.7,4.1 C5.2,4 6.6,5.2 6.6,7 C6.6,8.9 5.2,10 3.3,10 C1.8,10 0.6,9.4 0,8.2"/><path vector-effect="non-scaling-stroke" transform="translate(8.276 0) scale(1.0 1)" d="M0.2,9.6 L1.0,9.6"/><path vector-effect="non-scaling-stroke" transform="translate(12.076 0) scale(0.86 1)" d="M6,0 L0.9,0 L0.4,4.6 C1.2,4 2.2,3.7 3.3,3.7 C5.3,3.7 6.6,4.9 6.6,6.8 C6.6,8.8 5.2,10 3.3,10 C1.8,10 0.6,9.4 0,8.2"/><path vector-effect="non-scaling-stroke" transform="translate(20.352 0) scale(0.86 1)" d="M0,4.2 L5.4,10 M5.4,4.2 L0,10"/><path vector-effect="non-scaling-stroke" transform="translate(27.596 0) scale(1.0 1)" d="M4,-1.5 Q-1.3,5.7 4,12.9"/><path vector-effect="non-scaling-stroke" transform="translate(34.196 0) scale(0.86 1)" d="M0,10 L0,0 L3.6,0 C5.3,0 6.2,1.1 6.2,2.7 C6.2,4.3 5.3,5.4 3.6,5.4 L0,5.4"/><path vector-effect="non-scaling-stroke" transform="translate(42.128 0) scale(1.0 1)" d="M0,11.8 L6.1,-1"/><path vector-effect="non-scaling-stroke" transform="translate(50.828 0) scale(0.86 1)" d="M0.2,2.4 C0.5,0.8 1.7,0 3.2,0 C5,0 6.2,1.1 6.2,2.8 C6.2,4.2 5.3,5.3 3.8,6.5 L0,10 L6.4,10"/><path vector-effect="non-scaling-stroke" transform="translate(58.932 0) scale(1.0 1)" d="M0,5 L7.4,5"/><path vector-effect="non-scaling-stroke" transform="translate(68.932 0) scale(1.0 1)" d="M0,1.9 L2.6,0 L2.6,10"/><path vector-effect="non-scaling-stroke" transform="translate(74.232 0) scale(1.0 1)" d="M0,-1.5 Q5.3,5.7 0,12.9"/></g>
<g transform="translate(296.59999999999997 277.4) scale(1.01330 0.86000)" fill="none" stroke="#999999" stroke-width="1.0" stroke-linecap="round" stroke-linejoin="round" style="vector-effect:non-scaling-stroke"><path vector-effect="non-scaling-stroke" transform="translate(0.000 0) scale(0.86 1)" d="M6,0 L0.9,0 L0.4,4.6 C1.2,4 2.2,3.7 3.3,3.7 C5.3,3.7 6.6,4.9 6.6,6.8 C6.6,8.8 5.2,10 3.3,10 C1.8,10 0.6,9.4 0,8.2"/><path vector-effect="non-scaling-stroke" transform="translate(8.276 0) scale(1.0 1)" d="M0.2,9.6 L1.0,9.6"/><path vector-effect="non-scaling-stroke" transform="translate(12.076 0) scale(0.86 1)" d="M0.2,2.4 C0.5,0.8 1.7,0 3.2,0 C5,0 6.2,1.1 6.2,2.8 C6.2,4.2 5.3,5.3 3.8,6.5 L0,10 L6.4,10"/><path vector-effect="non-scaling-stroke" transform="translate(20.180 0) scale(0.86 1)" d="M6,0 L0.9,0 L0.4,4.6 C1.2,4 2.2,3.7 3.3,3.7 C5.3,3.7 6.6,4.9 6.6,6.8 C6.6,8.8 5.2,10 3.3,10 C1.8,10 0.6,9.4 0,8.2"/></g>
<line x1="126.6" y1="263.8" x2="126.6" y2="338.5" stroke="#b4b4b4" stroke-width="1" />
<line x1="126.6" y1="344" x2="126.6" y2="395.5" stroke="#b4b4b4" stroke-width="1" />
<line x1="122" y1="312.5" x2="135.5" y2="312.5" stroke="#b4b4b4" stroke-width="1" />
<line x1="122" y1="321.9" x2="175" y2="321.9" stroke="#b4b4b4" stroke-width="1" />
<line x1="122" y1="343.6" x2="175" y2="343.6" stroke="#b4b4b4" stroke-width="1" />
<polygon points="126.25,311.60 125.40,303.60 128.00,303.60 127.15,311.60" fill="#111"/>
<polygon points="126.25,320.80 125.40,312.80 128.00,312.80 127.15,320.80" fill="#111"/>
<polygon points="126.25,322.20 125.40,330.20 128.00,330.20 127.15,322.20" fill="#111"/>
<polygon points="126.15,344.40 125.30,352.40 127.90,352.40 127.05,344.40" fill="#111"/>
<g transform="translate(113.4 291.0) rotate(-90) scale(1.16555 0.89000)" fill="none" stroke="#999999" stroke-width="1.0" stroke-linecap="round" stroke-linejoin="round" style="vector-effect:non-scaling-stroke"><path vector-effect="non-scaling-stroke" transform="translate(0.000 0) scale(1.0 1)" d="M0,1.9 L2.6,0 L2.6,10"/><path vector-effect="non-scaling-stroke" transform="translate(5.300 0) scale(1.0 1)" d="M0.2,9.6 L1.0,9.6"/><path vector-effect="non-scaling-stroke" transform="translate(9.100 0) scale(1.0 1)" d="M0,1.9 L2.6,0 L2.6,10"/><path vector-effect="non-scaling-stroke" transform="translate(14.400 0) scale(0.86 1)" d="M3.4,0 C5.6,0 6.8,2.2 6.8,5 C6.8,7.8 5.6,10 3.4,10 C1.2,10 0,7.8 0,5 C0,2.2 1.2,0 3.4,0 Z"/></g>
<g transform="translate(113.4 391.20000000000005) rotate(-90) scale(1.02966 0.92000)" fill="none" stroke="#999999" stroke-width="1.0" stroke-linecap="round" stroke-linejoin="round" style="vector-effect:non-scaling-stroke"><path vector-effect="non-scaling-stroke" transform="translate(0.000 0) scale(0.86 1)" d="M0.2,2.4 C0.5,0.8 1.7,0 3.2,0 C5,0 6.2,1.1 6.2,2.8 C6.2,4.2 5.3,5.3 3.8,6.5 L0,10 L6.4,10"/><path vector-effect="non-scaling-stroke" transform="translate(8.104 0) scale(1.0 1)" d="M0.2,9.6 L1.0,9.6"/><path vector-effect="non-scaling-stroke" transform="translate(11.904 0) scale(0.86 1)" d="M6,0 L0.9,0 L0.4,4.6 C1.2,4 2.2,3.7 3.3,3.7 C5.3,3.7 6.6,4.9 6.6,6.8 C6.6,8.8 5.2,10 3.3,10 C1.8,10 0.6,9.4 0,8.2"/><path vector-effect="non-scaling-stroke" transform="translate(20.180 0) scale(0.86 1)" d="M3.4,0 C5.6,0 6.8,2.2 6.8,5 C6.8,7.8 5.6,10 3.4,10 C1.2,10 0,7.8 0,5 C0,2.2 1.2,0 3.4,0 Z"/></g>
<circle cx="180.2" cy="321.9" r="5.0" fill="none" stroke="#555" stroke-width="1.2"/>
<line x1="176.7" y1="321.9" x2="183.7" y2="321.9" stroke="#c4c4c4" stroke-width="0.8" />
<line x1="180.2" y1="318.4" x2="180.2" y2="325.4" stroke="#c4c4c4" stroke-width="0.8" />
<circle cx="180.2" cy="343.3" r="5.0" fill="none" stroke="#555" stroke-width="1.2"/>
<line x1="176.7" y1="343.3" x2="183.7" y2="343.3" stroke="#c4c4c4" stroke-width="0.8" />
<line x1="180.2" y1="339.8" x2="180.2" y2="346.8" stroke="#c4c4c4" stroke-width="0.8" />
<path d="M207.3,317.2 A5,5 0 1 0 213.6,325.4" fill="none" stroke="#555" stroke-width="1.2"/>
<path d="M213.4,317.4 Q215.8,319.3 216.1,322" fill="none" stroke="#555" stroke-width="1.1"/>
<line x1="206.5" y1="321.9" x2="213.5" y2="321.9" stroke="#c4c4c4" stroke-width="0.8" />
<line x1="210" y1="318.4" x2="210" y2="325.4" stroke="#c4c4c4" stroke-width="0.8" />
<circle cx="210" cy="343.3" r="5.0" fill="none" stroke="#555" stroke-width="1.2"/>
<line x1="206.5" y1="343.3" x2="213.5" y2="343.3" stroke="#c4c4c4" stroke-width="0.8" />
<line x1="210" y1="339.8" x2="210" y2="346.8" stroke="#c4c4c4" stroke-width="0.8" />
<circle cx="240" cy="321.9" r="5.0" fill="none" stroke="#555" stroke-width="1.2"/>
<line x1="236.5" y1="321.9" x2="243.5" y2="321.9" stroke="#c4c4c4" stroke-width="0.8" />
<line x1="240" y1="318.4" x2="240" y2="325.4" stroke="#c4c4c4" stroke-width="0.8" />
<circle cx="240" cy="343.3" r="5.0" fill="none" stroke="#555" stroke-width="1.2"/>
<line x1="236.5" y1="343.3" x2="243.5" y2="343.3" stroke="#c4c4c4" stroke-width="0.8" />
<line x1="240" y1="339.8" x2="240" y2="346.8" stroke="#c4c4c4" stroke-width="0.8" />
<path d="M205.5,305 L222,375 L190,410" stroke="#fff" stroke-width="0" fill="none"/>
<line x1="202.6" y1="312.4" x2="208.4" y2="317.6" stroke="#555" stroke-width="1.1" />
<line x1="210.4" y1="312.4" x2="213.5" y2="317.3" stroke="#555" stroke-width="1.1" />
<path d="M217.2,338 Q218.5,343.5 217.2,349.5 M220.8,338 Q222.3,343.5 220.8,349.5" fill="none" stroke="#b0b0b0" stroke-width="0.9"/>
<line x1="202" y1="377" x2="210" y2="367" stroke="#999" stroke-width="0.9" />
<line x1="206.5" y1="377.5" x2="214.5" y2="367" stroke="#999" stroke-width="0.9" />
<line x1="159.6" y1="402.5" x2="193.5" y2="402.5" stroke="#fff" stroke-width="1.6" />
<line x1="159.6" y1="402.5" x2="193.5" y2="402.5" stroke="#8a8a8a" stroke-width="1" stroke-dasharray="1.2,0.6"/>
<line x1="192.8" y1="401.5" x2="194.3" y2="393" stroke="#aaa" stroke-width="0.9" />
<line x1="196.8" y1="401.5" x2="198.3" y2="393" stroke="#aaa" stroke-width="0.9" />
<path d="M215,326 Q219,333 217,337 M218,352 Q217,360 213,364 M200,382 Q196,390 195,393" fill="none" stroke="#e0e0e0" stroke-width="0.9" stroke-dasharray="0.9,2.6"/>
<path d="M219.5,328 Q223,334 222,337 M222,353 Q221,360 218,364 M205,380 Q201,389 199.5,393" fill="none" stroke="#e8e8e8" stroke-width="0.9" stroke-dasharray="0.9,2.6"/>
<polygon points="245.5,348 253.2,351.3 252.1,353.4" fill="#111"/>
<path d="M252.5,352.4 L269,358.6 L334.5,358.6" fill="none" stroke="#b4b4b4" stroke-width="1"/>
<g transform="translate(289.4 346.09999999999997) scale(0.95783 0.81000)" fill="none" stroke="#999999" stroke-width="1.0" stroke-linecap="round" stroke-linejoin="round" style="vector-effect:non-scaling-stroke"><path vector-effect="non-scaling-stroke" transform="translate(0.000 0) scale(1.0 1)" d="M4,-1.5 Q-1.3,5.7 4,12.9"/><path vector-effect="non-scaling-stroke" transform="translate(6.600 0) scale(1.0 1)" d="M3.6,1.8 C5.5,1.8 6.9,3.2 6.9,5.2 C6.9,7.2 5.5,8.6 3.6,8.6 C1.7,8.6 0.3,7.2 0.3,5.2 C0.3,3.2 1.7,1.8 3.6,1.8 Z M1.3,10 L5.9,0.4"/><path vector-effect="non-scaling-stroke" transform="translate(15.800 0) scale(1.0 1)" d="M0,1.9 L2.6,0 L2.6,10"/><path vector-effect="non-scaling-stroke" transform="translate(21.100 0) scale(1.0 1)" d="M0.2,9.6 L1.0,9.6"/><path vector-effect="non-scaling-stroke" transform="translate(24.900 0) scale(0.86 1)" d="M0.5,0 L6.1,0 L2.7,4.1 C5.2,4 6.6,5.2 6.6,7 C6.6,8.9 5.2,10 3.3,10 C1.8,10 0.6,9.4 0,8.2"/><path vector-effect="non-scaling-stroke" transform="translate(33.176 0) scale(0.86 1)" d="M3.4,0 C5.6,0 6.8,2.2 6.8,5 C6.8,7.8 5.6,10 3.4,10 C1.2,10 0,7.8 0,5 C0,2.2 1.2,0 3.4,0 Z"/><path vector-effect="non-scaling-stroke" transform="translate(41.624 0) scale(1.0 1)" d="M0,-1.5 Q5.3,5.7 0,12.9"/></g>
<g transform="translate(168.6 416.9) scale(1.00294 0.81000)" fill="none" stroke="#999999" stroke-width="1.0" stroke-linecap="round" stroke-linejoin="round" style="vector-effect:non-scaling-stroke"><path vector-effect="non-scaling-stroke" transform="translate(0.000 0) scale(0.86 1)" d="M0,10 L0,0 L3.6,0 C5.3,0 6.2,1.1 6.2,2.7 C6.2,4.3 5.3,5.4 3.6,5.4 L0,5.4"/><path vector-effect="non-scaling-stroke" transform="translate(7.932 0) scale(0.86 1)" d="M6.2,2.2 C5.6,0.8 4.6,0 3.2,0 C1.3,0 0,2 0,5 C0,8 1.3,10 3.2,10 C4.6,10 5.6,9.2 6.2,7.8"/><path vector-effect="non-scaling-stroke" transform="translate(15.864 0) scale(0.86 1)" d="M0,10 L0,0 L3.4,0 C5,0 5.8,0.9 5.8,2.4 C5.8,3.9 5,4.8 3.4,4.8 L0,4.8 M3.4,4.8 C5.3,4.8 6.3,5.8 6.3,7.4 C6.3,9 5.3,10 3.4,10 L0,10"/><path vector-effect="non-scaling-stroke" transform="translate(33.382 0) scale(1.0 1)" d="M0,0 L0,10 L4.6,10"/><path vector-effect="non-scaling-stroke" transform="translate(40.582 0) scale(0.86 1)" d="M0,10 L3.5,0 L7,10 M1.3,6.6 L5.7,6.6"/><path vector-effect="non-scaling-stroke" transform="translate(49.202 0) scale(0.86 1)" d="M0,0 L3.65,5 L7.3,0 M3.65,5 L3.65,10"/><path vector-effect="non-scaling-stroke" transform="translate(58.080 0) scale(0.86 1)" d="M3.5,0 C5.7,0 7,2.2 7,5 C7,7.8 5.7,10 3.5,10 C1.3,10 0,7.8 0,5 C0,2.2 1.3,0 3.5,0 Z"/><path vector-effect="non-scaling-stroke" transform="translate(66.700 0) scale(0.86 1)" d="M0,0 L0,6.8 C0,8.9 1.3,10 3.35,10 C5.4,10 6.7,8.9 6.7,6.8 L6.7,0"/><path vector-effect="non-scaling-stroke" transform="translate(75.062 0) scale(1.0 1)" d="M0,0 L5.9,0 M2.95,0 L2.95,10"/></g>
<line x1="168.8" y1="426.9" x2="251.5" y2="426.9" stroke="#bbb" stroke-width="1" />
</svg>
</body></html>
